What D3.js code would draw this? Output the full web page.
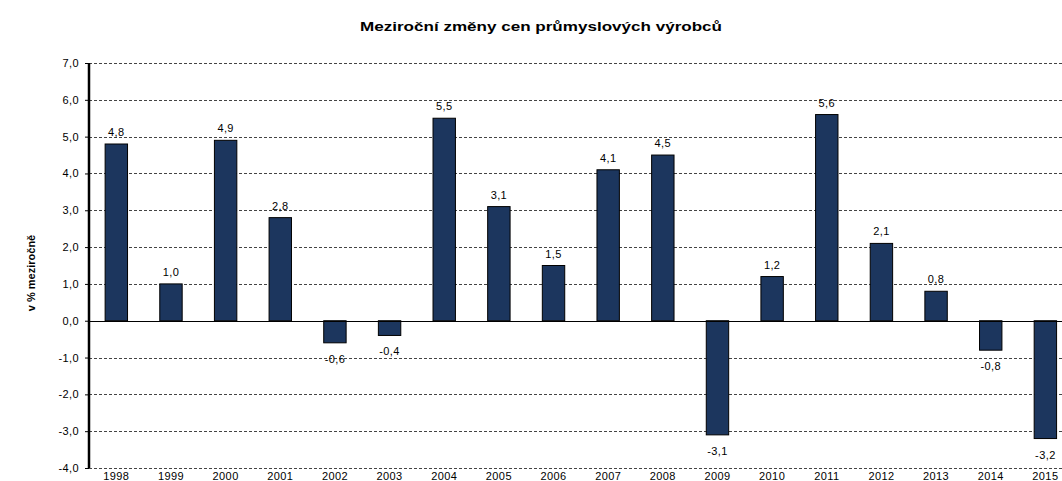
<!DOCTYPE html>
<html>
<head>
<meta charset="utf-8">
<script src="https://cdn.jsdelivr.net/npm/d3@7"></script>
<style>
  body { margin: 0; background: #fff; }
  svg { display: block; font-family: "Liberation Sans", Arial, sans-serif; }
  .grid line { stroke: #444; stroke-dasharray: 3,2; }
</style>
</head>
<body>
<div id="chart"></div>
<script>
// data
var years = ['1998', '1999', '2000', '2001', '2002', '2003', '2004', '2005', '2006',
    '2007', '2008', '2009', '2010', '2011', '2012', '2013', '2014', '2015'];
var values = [4.8, 1.0, 4.9, 2.8, -0.6, -0.4, 5.5, 3.1, 1.5, 4.1, 4.5, -3.1, 1.2, 5.6, 2.1, 0.8, -0.8, -3.2];
var yTicks = [-4, -3, -2, -1, 0, 1, 2, 3, 4, 5, 6, 7];

var width = 1062, height = 481;
var margin = { left: 89, top: 63, bottom: 13 };
var plotW = 18 * 54.65;
var plotH = height - margin.top - margin.bottom;

// czech decimal comma, plain hyphen for minus
var fmt = function (v) { return v.toFixed(1).replace('.', ','); };

var svg = d3.select('#chart').append('svg')
    .attr('width', width)
    .attr('height', height);

svg.append('text')
    .attr('x', 541)
    .attr('y', 31)
    .attr('text-anchor', 'middle')
    .attr('textLength', 362)
    .attr('lengthAdjust', 'spacingAndGlyphs')
    .style('font-size', '13.5px')
    .style('font-weight', 'bold')
    .text('Meziroční změny cen  průmyslových výrobců');

svg.append('text')
    .attr('transform', 'translate(35,273) rotate(-90)')
    .attr('text-anchor', 'middle')
    .style('font-size', '11px')
    .style('font-weight', 'bold')
    .text('v % meziročně');

var g = svg.append('g')
    .attr('transform', 'translate(' + margin.left + ',' + margin.top + ')');

var x = d3.scaleBand()
    .domain(years)
    .range([0, plotW])
    .paddingInner(0.59)
    .paddingOuter(0.295);

var y = d3.scaleLinear()
    .domain([-4, 7])
    .range([plotH, 0]);

// gridlines
g.append('g')
    .attr('class', 'grid')
    .selectAll('line')
    .data(yTicks.filter(function (d) { return d !== 0; }))
    .enter().append('line')
    .attr('x1', 0)
    .attr('x2', plotW)
    .attr('y1', function (d) { return Math.round(y(d)) + 0.5; })
    .attr('y2', function (d) { return Math.round(y(d)) + 0.5; });

// bars
g.selectAll('.bar')
    .data(values)
    .enter().append('rect')
    .attr('class', 'bar')
    .attr('x', function (d, i) { return x(years[i]); })
    .attr('width', x.bandwidth())
    .attr('y', function (d) { return y(Math.max(0, d)); })
    .attr('height', function (d) { return Math.abs(y(d) - y(0)); })
    .attr('fill', '#1c365e')
    .attr('stroke', '#000')
    .attr('stroke-width', 1);

// zero line
g.append('line')
    .attr('x1', 0)
    .attr('x2', plotW)
    .attr('y1', Math.round(y(0)) + 0.5)
    .attr('y2', Math.round(y(0)) + 0.5)
    .attr('stroke', '#000')
    .attr('stroke-width', 1.2);

// value labels
g.selectAll('.val')
    .data(values)
    .enter().append('text')
    .attr('class', 'val')
    .attr('x', function (d, i) { return x(years[i]) + x.bandwidth() / 2; })
    .attr('y', function (d) { return d >= 0 ? y(d) - 8 : y(d) + 20; })
    .attr('text-anchor', 'middle')
    .style('font-size', '11px')
    .style('letter-spacing', '0.4px')
    .attr('fill', '#000')
    .text(function (d) { return fmt(d); });

// y axis
var yAxis = d3.axisLeft(y)
    .tickValues(yTicks)
    .tickSize(4)
    .tickFormat(fmt);
var ya = g.append('g')
    .attr('class', 'axis-y')
    .call(yAxis);
ya.select('.domain').attr('stroke-width', 2.5).attr('d', 'M0,0V' + plotH);
ya.selectAll('text').style('font-size', '11px').style('letter-spacing', '0.4px').attr('x', -10);

// x labels
g.selectAll('.xl')
    .data(years)
    .enter().append('text')
    .attr('class', 'xl')
    .attr('x', function (d) { return x(d) + x.bandwidth() / 2; })
    .attr('y', height - margin.top - 1)
    .attr('text-anchor', 'middle')
    .style('font-size', '11px')
    .style('letter-spacing', '0.4px')
    .text(function (d) { return d; });
</script>
</body>
</html>
